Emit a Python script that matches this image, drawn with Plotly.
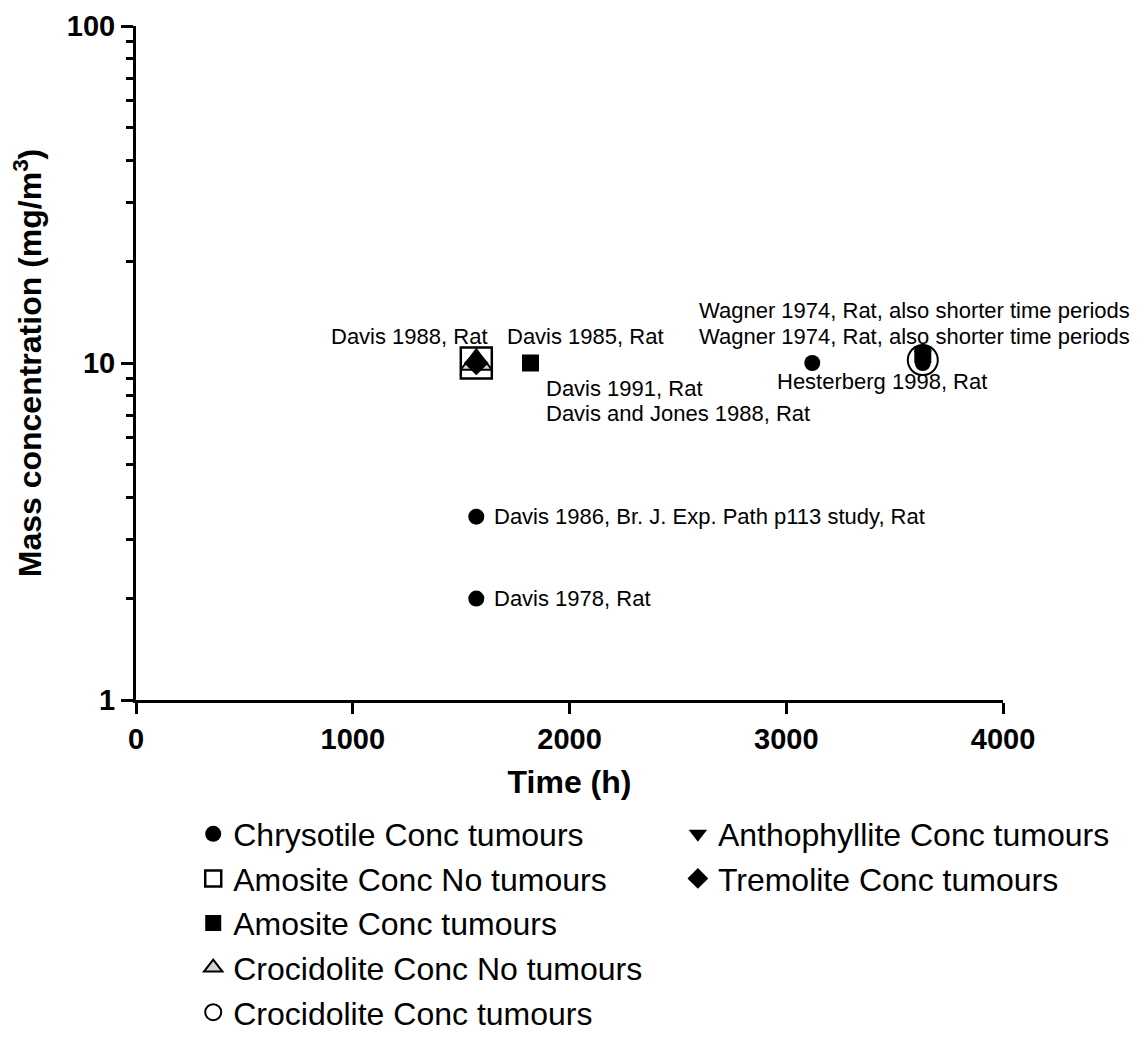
import math
import plotly.graph_objects as go

# ---- data ----
chrysotile_x = [1570, 1570, 1570, 3120, 3630]
chrysotile_y = [10, 3.5, 2, 10, 10]
amosite_no_x = [1570]
amosite_no_y = [10]
amosite_x = [1820, 3630]
amosite_y = [10, 10.6]
crocidolite_no_x = [1570]
crocidolite_no_y = [10]
crocidolite_x = [3630]
crocidolite_y = [10.2]
anthophyllite_x = [3630]
anthophyllite_y = [10.6]
tremolite_x = [1570]
tremolite_y = [10]

label_text = [
    "Davis 1988, Rat",
    "Davis 1985, Rat",
    "Davis 1991, Rat",
    "Davis and Jones 1988, Rat",
    "Davis 1986, Br. J. Exp. Path p113 study, Rat",
    "Davis 1978, Rat",
    "Hesterberg 1998, Rat",
    "Wagner 1974, Rat, also shorter time periods",
    "Wagner 1974, Rat, also shorter time periods",
]
label_x = [1570, 1820, 1820, 1820, 1570, 1570, 3120, 3630, 3630]
label_y = [10, 10, 10, 10, 3.5, 2, 10, 10.2, 10.2]

# ---- styles ----
label_xanchor = ["right", "left", "left", "left", "left", "left", "left", "left", "left"]
label_xshift = [14, -25, 14, 14, 16, 16, -37, -226, -226]
label_yshift = [27, 27, -25, -50, 0, 0, -18, 50, 24]

FONT = "Liberation Sans, Arial, sans-serif"

fig = go.Figure()

fig.add_trace(go.Scatter(
    x=amosite_no_x, y=amosite_no_y, mode="markers", name="Amosite Conc No tumours",
    marker=dict(symbol="square", size=31, color="rgba(255,255,255,0)",
                line=dict(color="black", width=2.5)),
    legend="legend", legendrank=2))
fig.add_trace(go.Scatter(
    x=crocidolite_no_x, y=crocidolite_no_y, mode="markers", name="Crocidolite Conc No tumours",
    marker=dict(symbol="triangle-up", size=27, color="#d3d3d3",
                line=dict(color="black", width=2)),
    legend="legend", legendrank=4))
fig.add_trace(go.Scatter(
    x=tremolite_x, y=tremolite_y, mode="markers", name="Tremolite Conc tumours",
    marker=dict(symbol="diamond", size=19, color="black"),
    legend="legend2", legendrank=2))
fig.add_trace(go.Scatter(
    x=chrysotile_x, y=chrysotile_y, mode="markers", name="Chrysotile Conc tumours",
    marker=dict(symbol="circle", size=16, color="black"),
    legend="legend", legendrank=1))
fig.add_trace(go.Scatter(
    x=anthophyllite_x, y=anthophyllite_y, mode="markers", name="Anthophyllite Conc tumours",
    marker=dict(symbol="triangle-down", size=16, color="black"),
    legend="legend2", legendrank=1))
fig.add_trace(go.Scatter(
    x=amosite_x, y=amosite_y, mode="markers", name="Amosite Conc tumours",
    marker=dict(symbol="square", size=17, color="black"),
    legend="legend", legendrank=3))
fig.add_trace(go.Scatter(
    x=crocidolite_x, y=crocidolite_y, mode="markers", name="Crocidolite Conc tumours",
    marker=dict(symbol="circle", size=30, color="rgba(255,255,255,0)",
                line=dict(color="black", width=2)),
    legend="legend", legendrank=5))

# annotations on a log axis take log10 positions
for t, x, y, xa, xs, ys in zip(label_text, label_x, label_y, label_xanchor, label_xshift, label_yshift):
    fig.add_annotation(x=x, y=math.log10(y), xref="x", yref="y", text=t, showarrow=False,
                       xanchor=xa, yanchor="middle", xshift=xs, yshift=ys,
                       font=dict(family=FONT, size=22, color="black"))

fig.update_xaxes(
    range=[0, 4000], tickmode="array", tickvals=[0, 1000, 2000, 3000, 4000],
    showline=True, linewidth=3, linecolor="black", ticks="outside", ticklen=11,
    tickwidth=3, tickcolor="black", showgrid=False, zeroline=False,
    ticklabeloverflow="allow",
    tickfont=dict(family=FONT, size=29, color="black", weight="bold"),
    title=dict(text="Time (h)", standoff=17,
               font=dict(family=FONT, size=32, color="black", weight="bold")))
fig.update_yaxes(
    type="log", range=[0, 2], dtick=1, tick0=0,
    showline=True, linewidth=3, linecolor="black", ticks="outside", ticklen=12,
    tickwidth=3, tickcolor="black", showgrid=False, zeroline=False,
    ticklabeloverflow="allow",
    minor=dict(ticks="outside", ticklen=7, tickwidth=3, tickcolor="black",
               dtick="D1", showgrid=False),
    tickfont=dict(family=FONT, size=29, color="black", weight="bold"),
    title=dict(text="Mass concentration (mg/m<sup>3</sup>)", standoff=17,
               font=dict(family=FONT, size=32, color="black", weight="bold")))

fig.update_layout(
    width=1145, height=1058,
    margin=dict(l=128, r=150, t=18, b=366, autoexpand=False),
    plot_bgcolor="white", paper_bgcolor="white",
    font=dict(family=FONT, color="black"),
    legend=dict(x=0.066, y=-0.158, xanchor="left", yanchor="top",
                font=dict(family=FONT, size=32, color="black"),
                bgcolor="rgba(0,0,0,0)", itemsizing="trace", orientation="v"),
    legend2=dict(x=0.625, y=-0.158, xanchor="left", yanchor="top",
                 font=dict(family=FONT, size=32, color="black"),
                 bgcolor="rgba(0,0,0,0)", itemsizing="trace", orientation="v"),
    hovermode=False,
)

fig.write_html("out.html", config={"displayModeBar": False})
